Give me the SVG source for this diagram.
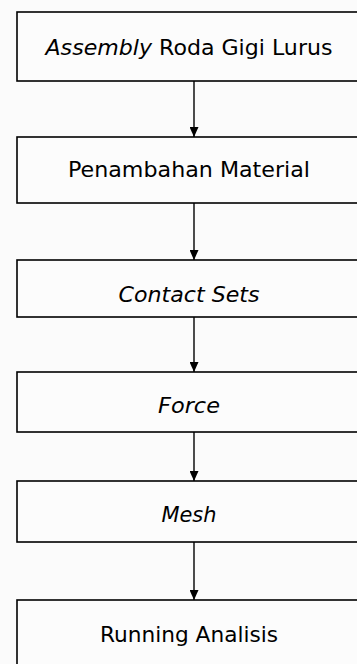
<svg xmlns="http://www.w3.org/2000/svg" width="357" height="664" viewBox="0 0 357 664">
<style>
.box{fill:#fcfcfc;stroke:#000;stroke-width:1.6}
.t{font-family:"DejaVu Sans",Verdana,sans-serif;font-size:21px;fill:#000;text-anchor:middle}
.i{font-style:italic}
.c{stroke:#000;stroke-width:1.4;fill:none}
</style>
<defs>
<marker id="ah" markerWidth="10" markerHeight="9" refX="10" refY="4.5" orient="auto" markerUnits="userSpaceOnUse">
<path d="M0,0 L10,4.5 L0,9 Z" fill="#000"/>
</marker>
</defs>
<rect x="0" y="0" width="357" height="664" fill="#fbfbfb"/>
<g id="connectors">
<line class="c" x1="194" y1="81" x2="194" y2="137" marker-end="url(#ah)"/>
<line class="c" x1="194" y1="203" x2="194" y2="260" marker-end="url(#ah)"/>
<line class="c" x1="194" y1="317" x2="194" y2="372" marker-end="url(#ah)"/>
<line class="c" x1="194" y1="432" x2="194" y2="481" marker-end="url(#ah)"/>
<line class="c" x1="194" y1="542" x2="194" y2="600" marker-end="url(#ah)"/>
</g>
<g id="n1"><rect class="box" x="17" y="12" width="355" height="69"/><text class="t" x="189" y="55" textLength="287" lengthAdjust="spacingAndGlyphs"><tspan class="i">Assembly</tspan> Roda Gigi Lurus</text></g>
<g id="n2"><rect class="box" x="17" y="137" width="355" height="66"/><text class="t" x="189" y="177" textLength="242" lengthAdjust="spacingAndGlyphs">Penambahan Material</text></g>
<g id="n3"><rect class="box" x="17" y="260" width="355" height="57"/><text class="t i" x="189" y="302" textLength="141" lengthAdjust="spacingAndGlyphs">Contact Sets</text></g>
<g id="n4"><rect class="box" x="17" y="372" width="355" height="60"/><text class="t i" x="189" y="413" textLength="62" lengthAdjust="spacingAndGlyphs">Force</text></g>
<g id="n5"><rect class="box" x="17" y="481" width="355" height="61"/><text class="t i" x="189" y="522" textLength="55" lengthAdjust="spacingAndGlyphs">Mesh</text></g>
<g id="n6"><rect class="box" x="17" y="600" width="355" height="80"/><text class="t" x="189" y="642" textLength="178" lengthAdjust="spacingAndGlyphs">Running Analisis</text></g>
</svg>
